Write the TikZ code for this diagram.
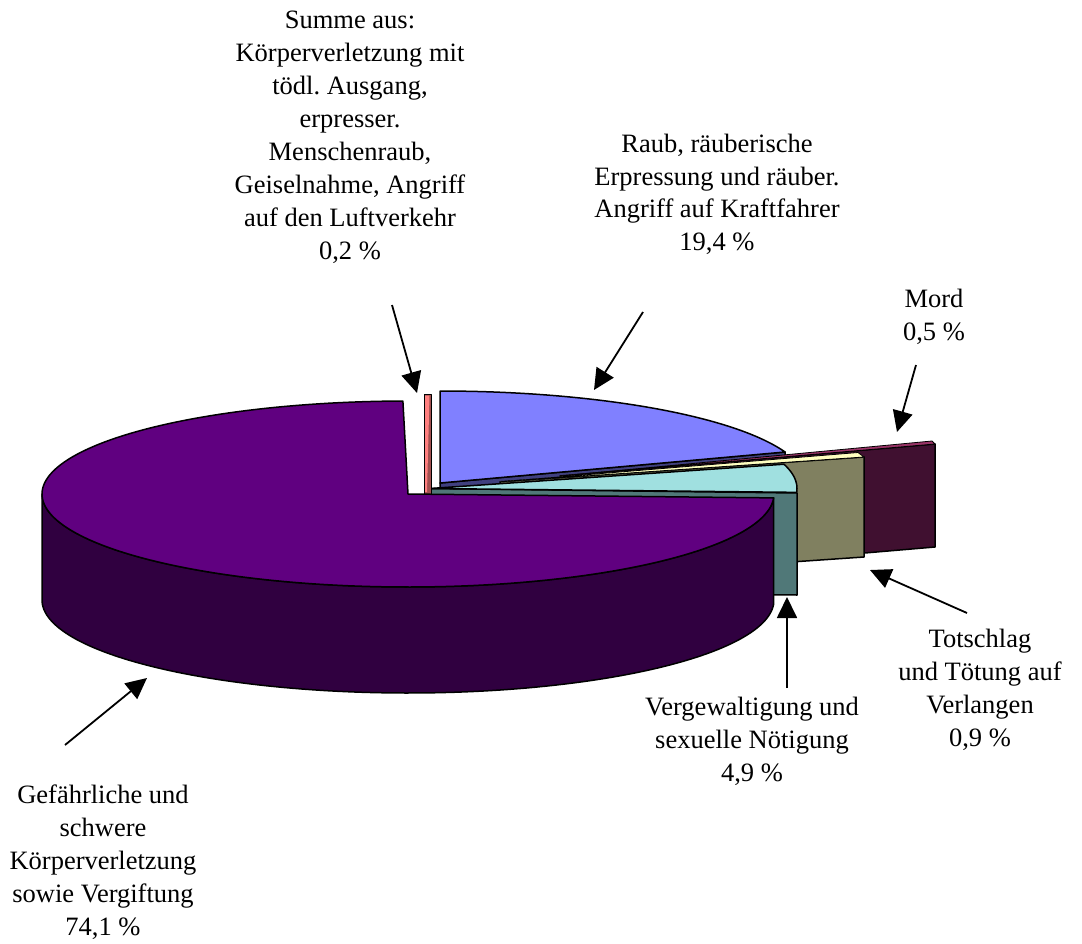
\documentclass[tikz,border=0pt]{standalone}
\usepackage{fontspec}
\setmainfont{Liberation Serif}
\usetikzlibrary{arrows.meta}
\frenchspacing
\definecolor{ptop}{HTML}{600080}
\definecolor{pside}{HTML}{300040}
\definecolor{btop}{HTML}{8080FF}
\definecolor{bside}{HTML}{40407F}
\definecolor{vtop}{HTML}{A0E0E0}
\definecolor{vside}{HTML}{507878}
\definecolor{ttop}{HTML}{FFFFC0}
\definecolor{tside}{HTML}{808060}
\definecolor{mtop}{HTML}{993366}
\definecolor{mside}{HTML}{401030}
\definecolor{ktop}{HTML}{FF8080}
\definecolor{kside}{HTML}{A05050}
\begin{document}
\begin{tikzpicture}[x=1pt,y=-1pt,
  lbl/.style={align=center, anchor=base, inner sep=0pt, font=\fontsize{26.5}{33}\selectfont\frenchspacing},
  arr/.style={line width=1.8pt, -{Triangle[length=21pt,width=20pt]}},
  face/.style={draw=black, line width=1.5pt, line join=round}]
\useasboundingbox (0,0) rectangle (1082,943);

% Raub (blue)
\draw[face, fill=bside] (440,483) -- (785,452) -- (785,557) -- (440,588) -- cycle;
\draw[face, fill=btop] (440,483) -- plot[domain=90:19.7, samples=80] ({440+366.5*cos(\x)},{483-92*sin(\x)}) -- cycle;
% Mord
\draw[face, fill=mside] (560,476) -- (935,444) -- (935,547) -- (560,579) -- cycle;
\draw[face, fill=mtop, line width=0.8pt] (560,476) -- (932,441) -- (935,444) -- cycle;
% Totschlag
\draw[face, fill=tside] (500,481.8) -- (864,457) -- (864,557) -- (500,582) -- cycle;
\draw[face, fill=ttop, line width=0.8pt] (500,481.8) -- (858,452.5) -- (864,457) -- cycle;
% Vergewaltigung
\draw[face, fill=vside] (430,488.5) -- (797,493) -- (797,595) -- (430,591) -- cycle;
\draw[face, fill=vtop] (430,488.5) -- plot[domain=15.3:-2.4, samples=60] ({430+367*cos(\x)},{488.5-92*sin(\x)}) -- cycle;
% Summe (pink sliver)
\draw[face, fill=kside, line width=0.9pt] (424,394) rectangle (431,494);
\fill[ktop] (425,395.5) -- (429.5,395.5) -- (427,492) -- (425,492) -- cycle;
% Gefaehrliche (purple)
\draw[face, fill=pside] plot[domain=180:357.6, samples=120] ({408+366*cos(\x)},{494-93*sin(\x)}) -- plot[domain=357.6:180, samples=120] ({408+366*cos(\x)},{600-93*sin(\x)}) -- cycle;
\draw[face, fill=ptop] (408,494) -- plot[domain=90.8:357.6, samples=160] ({408+366*cos(\x)},{494-93*sin(\x)}) -- cycle;

% labels (anchor = baseline of the last line)
\node[lbl] (lsumme) at (350,259) {Summe aus:\\Körperverletzung mit\\tödl. Ausgang,\\erpresser.\\Menschenraub,\\Geiselnahme, Angriff\\auf den Luftverkehr\\0,2 \%};
\node[lbl, font=\fontsize{26.5}{32.4}\selectfont\frenchspacing] (lraub) at (717,250) {Raub, räuberische\\Erpressung und räuber.\\Angriff auf Kraftfahrer\\19,4 \%};
\node[lbl] (lmord) at (934,340) {Mord\\0,5 \%};
\node[lbl] (lverg) at (752,781) {Vergewaltigung und\\sexuelle Nötigung\\4,9 \%};
\node[lbl] (ltot) at (980,746) {Totschlag\\und Tötung auf\\Verlangen\\0,9 \%};
\node[lbl] (lgef) at (103,935) {Gefährliche und\\schwere\\Körperverletzung\\sowie Vergiftung\\74,1 \%};

% arrows
\coordinate (s1) at (392,305); \coordinate (e1) at (417,393);
\coordinate (s2) at (643,312); \coordinate (e2) at (594,390);
\coordinate (s3) at (916,365); \coordinate (e3) at (897,432);
\coordinate (s4) at (967,613); \coordinate (e4) at (870,570);
\coordinate (s5) at (787,688); \coordinate (e5) at (787,597);
\coordinate (s6) at (65,745);  \coordinate (e6) at (147,678);
\draw[arr] (s1) -- (e1);
\draw[arr] (s2) -- (e2);
\draw[arr] (s3) -- (e3);
\draw[arr] (s4) -- (e4);
\draw[arr] (s5) -- (e5);
\draw[arr] (s6) -- (e6);
\end{tikzpicture}
\end{document}
